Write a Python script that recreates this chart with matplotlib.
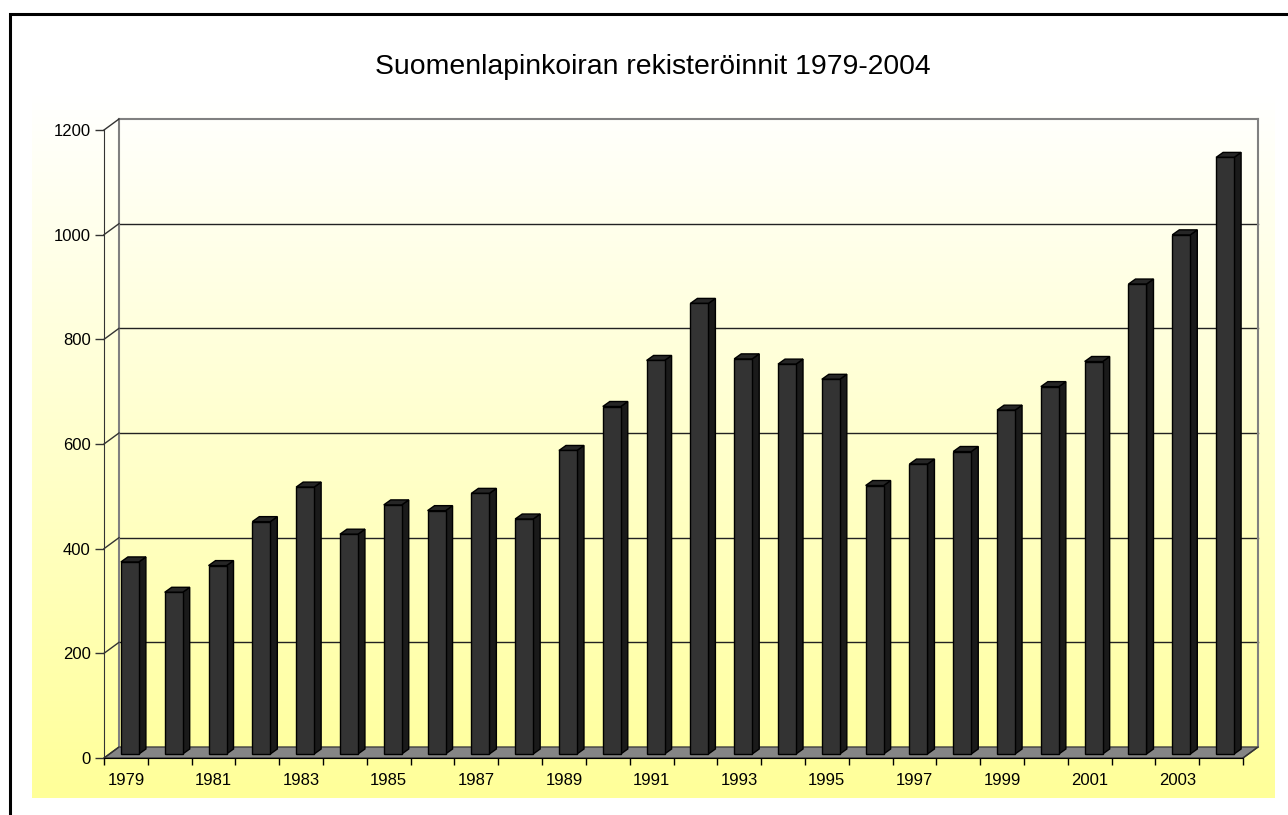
import numpy as np
import matplotlib.pyplot as plt
from matplotlib.patches import Polygon, Rectangle

years = list(range(1979, 2005))
registrations = [367, 309, 360, 444, 510, 420, 476, 465, 498, 449, 580, 664, 752,
                 861, 755, 745, 716, 513, 554, 578, 657, 702, 750, 898, 992, 1140]
y_ticks = [0, 200, 400, 600, 800, 1000, 1200]
title = 'Suomenlapinkoiran rekisteröinnit 1979-2004'

W, H = 1288, 815
plt.rcParams['font.family'] = ['Liberation Sans', 'DejaVu Sans']


def fig_box(x0, y0, x1, y1):
    # pixel box (origin top-left) -> figure fraction rect
    return [x0 / W, 1 - y1 / H, (x1 - x0) / W, (y1 - y0) / H]


fig = plt.figure(figsize=(W / 100, H / 100), dpi=100)

# white -> yellow gradient behind the plot
bg = fig.add_axes(fig_box(32, 95, 1275, 798))
t = np.linspace(0, 1, 256)[:, None, None]
top = np.array([1.0, 1.0, 1.0])
bottom = np.array([1.0, 1.0, 0.6])
grad = top + (bottom - top) * t
bg.imshow(np.repeat(grad, 2, axis=1), aspect='auto', extent=[0, 1, 0, 1])
bg.axis('off')

# front plane of the 3d box
ax = fig.add_axes(fig_box(104, 130, 1243, 758))
ax.set_facecolor('none')
n = len(years)
ymax = y_ticks[-1]
ax.set_xlim(-0.5, n - 0.5)
ax.set_ylim(0, ymax)

px_x = (1243 - 104) / n
px_y = (758 - 130) / ymax


def dpx(dx, dy):
    return dx / px_x, dy / px_y


DX, DY = dpx(15, 11)   # back wall depth
BX, BY = dpx(4, 4)     # bar plane
SX, SY = dpx(7, 5)     # bar depth
bw = 18 / px_x
x0, x1 = -0.5, n - 0.5

# floor
ax.add_patch(Polygon([(x0, 0), (x1, 0), (x1 + DX, DY), (x0 + DX, DY)],
                     closed=True, fc='#858585', ec='#404040', lw=1,
                     clip_on=False, zorder=1))

# back wall gridlines and edges
for v in y_ticks[1:-1]:
    ax.plot([x0 + DX, x1 + DX], [v + DY, v + DY], color='#222222', lw=1,
            clip_on=False, zorder=1)
ax.plot([x0 + DX, x1 + DX], [ymax + DY, ymax + DY], color='#808080', lw=1.5,
        clip_on=False, zorder=1)
ax.plot([x0 + DX, x0 + DX], [DY, ymax + DY], color='#808080', lw=1.5,
        clip_on=False, zorder=1)
ax.plot([x1 + DX, x1 + DX], [DY, ymax + DY], color='#808080', lw=1.5,
        clip_on=False, zorder=1)
for v in y_ticks:
    ax.plot([x0, x0 + DX], [v, v + DY], color='#333333', lw=1,
            clip_on=False, zorder=1)
ax.plot([x1, x1 + DX], [0, DY], color='#333333', lw=1, clip_on=False, zorder=1)

# bars
for i, v in enumerate(registrations):
    l = i + BX - bw / 2
    r = i + BX + bw / 2
    b = BY
    tp = v + BY
    ax.add_patch(Polygon([(r, b), (r + SX, b + SY), (r + SX, tp + SY), (r, tp)],
                         closed=True, fc='#1a1a1a', ec='black', lw=1,
                         clip_on=False, zorder=3))
    ax.add_patch(Polygon([(l, tp), (r, tp), (r + SX, tp + SY), (l + SX, tp + SY)],
                         closed=True, fc='#262626', ec='black', lw=1,
                         clip_on=False, zorder=3))
    ax.add_patch(Rectangle((l, b), bw, v, fc='#333333', ec='black', lw=1,
                           clip_on=False, zorder=4))

# axes
for s in ['top', 'right']:
    ax.spines[s].set_visible(False)
ax.spines['left'].set_color('#333333')
ax.spines['bottom'].set_color('black')
ax.set_yticks(y_ticks)
ax.tick_params(axis='y', length=6.5, width=1, pad=3, labelsize=12,
               color='#333333')
ax.set_xticks(np.arange(n + 1) - 0.5)
ax.set_xticklabels([])
ax.tick_params(axis='x', which='major', length=5, width=1, color='black')
ax.set_xticks(np.arange(0, n, 2), minor=True)
ax.set_xticklabels([str(y) for y in years[::2]], minor=True)
ax.tick_params(axis='x', which='minor', length=0, pad=10.5, labelsize=12)

# outer frame (runs past the right and bottom edges)
fig.add_artist(Rectangle((10 / W, -0.1), 1.2, 1 - 14 / H + 0.1,
                         transform=fig.transFigure, fill=False, lw=2.2,
                         ec='black'))

fig.text(653 / W, 1 - 74 / H, title, ha='center', va='baseline', fontsize=20.4)

fig.savefig('out.png', dpi=100)
